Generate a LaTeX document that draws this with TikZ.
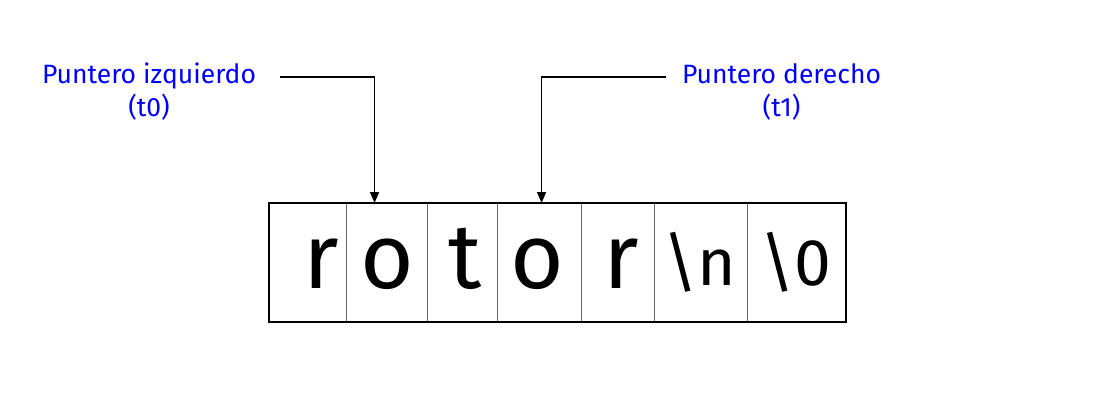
\documentclass[tikz,border=0pt]{standalone}
\usepackage{fontspec}
\setmainfont{Fira Sans}
\usetikzlibrary{arrows.meta,fit}
\begin{document}
\begin{tikzpicture}[x=1pt,y=-1pt,
  cell/.style={draw=black!60, line width=1.1pt, minimum height=118pt,
    inner sep=0pt, anchor=north west},
  frame/.style={draw=black, line width=1.7pt, inner sep=0pt},
  glyph/.style={inner sep=0pt, anchor=base, font=\fontsize{92}{92}\selectfont},
  esc/.style={inner sep=0pt, anchor=base, font=\fontsize{66}{66}\selectfont},
  lbl/.style={text=blue, align=center, inner sep=0pt, anchor=base,
    font=\fontsize{26.5}{33.4}\selectfont},
  ptr/.style={draw=black, line width=1.6pt, -{Triangle[length=11pt,width=9pt]}}]
\useasboundingbox (0,0) rectangle (1097,416);

% the string buffer, one cell per character
\node[cell, minimum width=77pt] (c1) at (269,203) {};
\node[cell, minimum width=81pt] (c2) at (346,203) {};
\node[cell, minimum width=70pt] (c3) at (427,203) {};
\node[cell, minimum width=84pt] (c4) at (497,203) {};
\node[cell, minimum width=73pt] (c5) at (581,203) {};
\node[cell, minimum width=93pt] (c6) at (654,203) {};
\node[cell, minimum width=98pt] (c7) at (747,203) {};
\node[frame, fit=(c1)(c7)] (buf) {};

% characters
\node[glyph] (g1) at (321,288) {r};
\node[glyph] (g2) at (387,288) {o};
\node[glyph] (g3) at (465,288) {t};
\node[glyph] (g4) at (537,288) {o};
\node[glyph] (g5) at (621,288) {r};
\node[esc] (g6) at (700,285) {\textbackslash n};
\node[esc] (g7) at (796,285) {\textbackslash 0};

% pointer labels (base anchor sits on the second line)
\node[lbl] (pl) at (149,116.7) {Puntero izquierdo\\(t0)};
\node[lbl] (pr) at (781.5,116.7) {Puntero derecho\\(t1)};

% pointer arrows
\coordinate (sl) at (280,77);
\coordinate (sr) at (666,77);
\draw[ptr] (sl) -| ([xshift=-12.5pt]c2.north);
\draw[ptr] (sr) -| ([xshift=2pt]c4.north);
\end{tikzpicture}
\end{document}
